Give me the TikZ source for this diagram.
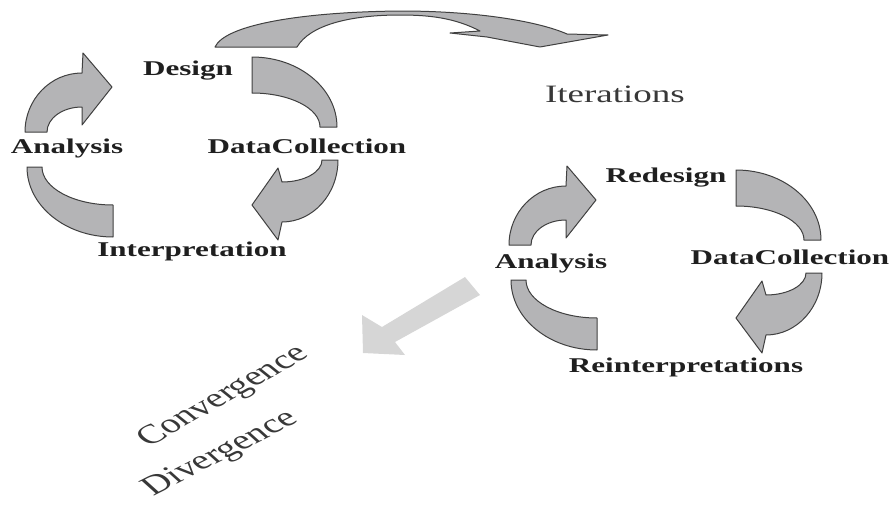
\documentclass[tikz,border=0pt]{standalone}
\usepackage{fontspec}
\setmainfont{Liberation Serif}
\usetikzlibrary{calc}

\definecolor{arrowgray}{RGB}{180,180,182}
\definecolor{pathgray}{RGB}{214,214,214}

\begin{document}
\begin{tikzpicture}[x=0.5pt,y=-0.5pt,
    stretched/.style={xscale=1.48,transform shape},
    stage/.style={stretched,font=\bfseries\fontsize{10.5}{12}\selectfont,text=black!88,inner sep=0pt},
    note/.style={font=\fontsize{12.5}{14}\selectfont,text=black!78,inner sep=0pt},
    cyclearrow/.style={fill=arrowgray,draw=black!75,line width=0.5pt,line join=round}]
  \useasboundingbox (0,0) rectangle (891,509);

  % the two cycles, the second one shifted down right
  \foreach \dx/\dy in {0/0,484/113} {
    \begin{scope}[shift={(\dx,\dy)}]
      \draw[cyclearrow] (25,132) arc[start angle=180,end angle=270,x radius=57,y radius=59]
        -- (83,53) -- (112,87) -- (82,125) -- (82,107)
        arc[start angle=270,end angle=180,x radius=35,y radius=25] -- cycle;
      \draw[cyclearrow] (252,57) arc[start angle=270,end angle=360,x radius=85,y radius=70]
        -- (320,127) arc[start angle=360,end angle=270,x radius=68,y radius=34] -- cycle;
      \draw[cyclearrow] (338,160) arc[start angle=0,end angle=90,x radius=56,y radius=62]
        -- (278,240) -- (252,205) -- (278,168) -- (282,182)
        arc[start angle=90,end angle=0,x radius=40,y radius=22] -- cycle;
      \draw[cyclearrow] (27,167) arc[start angle=180,end angle=90,x radius=86,y radius=70]
        -- (113,205) arc[start angle=90,end angle=180,x radius=71,y radius=38] -- cycle;
    \end{scope}
  }

  % first cycle
  \node[stage] (design) at (188,71) {Design};
  \node[stage] (collect1) at (307,146) {DataCollection};
  \node[stage] (interp) at (192,251) {Interpretation};
  \node[stage] (analysis1) at (67,148) {Analysis};

  % iteration arrow
  \draw[cyclearrow] (215,47) .. controls (225,25) and (300,12) .. (400,11)
    .. controls (480,11) and (540,22) .. (567,34) -- (608,35) -- (540,47)
    -- (487,37) -- (450,33) -- (480,31)
    .. controls (455,18) and (430,15) .. (400,15)
    .. controls (350,15) and (310,25) .. (297,47) -- cycle;
  \node[note,stretched] (iter) at (615,94) {Iterations};

  % second cycle
  \node[stage] (redesign) at (666,178) {Redesign};
  \node[stage] (collect2) at (790,257) {DataCollection};
  \node[stage] (analysis2) at (551,263) {Analysis};
  \node[stage] (reinterp) at (686,367) {Reinterpretations};

  % back towards the first cycle
  \fill[pathgray] (465,277) -- (480,295) -- (395,342) -- (405,355) -- (363,353)
    -- (362,315) -- (382,327) -- cycle;
  \node[note,font=\fontsize{13.5}{15}\selectfont,xscale=1.48,rotate=40,transform shape] (conv) at (224,397) {Convergence};
  \node[note,font=\fontsize{13.5}{15}\selectfont,xscale=1.48,rotate=37,transform shape] (div) at (221,454) {Divergence};
\end{tikzpicture}
\end{document}
